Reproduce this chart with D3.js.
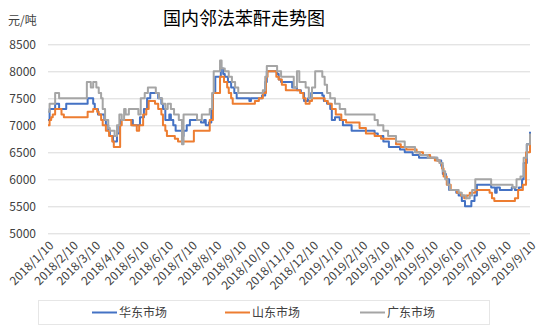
<!DOCTYPE html>
<html><head><meta charset="utf-8">
<script src="https://cdn.jsdelivr.net/npm/d3@7"></script>
<style>body{margin:0;background:#fff}svg{display:block}text{font-family:"Noto Sans CJK SC","Microsoft YaHei",sans-serif}</style>
</head><body>
<svg id="chart" width="554" height="332"></svg>
<script>
const chartTitle = "国内邻法苯酐走势图";
const unitLabel = "元/吨";
const seriesNames = ["华东市场", "山东市场", "广东市场"];
const seriesColors = ["#4472C4", "#ED7D31", "#A5A5A5"];
const yTickValues = [5000, 5500, 6000, 6500, 7000, 7500, 8000, 8500];
const xTickLabels = ["2018/1/10","2018/2/10","2018/3/10","2018/4/10","2018/5/10","2018/6/10","2018/7/10","2018/8/10","2018/9/10","2018/10/10","2018/11/10","2018/12/10","2019/1/10","2019/2/10","2019/3/10","2019/4/10","2019/5/10","2019/6/10","2019/7/10","2019/8/10","2019/9/10"];

// 华东市场 (date, price) – step changes
const huadong = [
["2018-01-10",7100],["2018-01-12",7300],["2018-01-19",7400],["2018-01-24",7300],["2018-02-02",7400],
["2018-03-01",7500],["2018-03-08",7400],["2018-03-10",7300],["2018-03-14",7200],["2018-03-22",7100],
["2018-03-24",7000],["2018-03-27",6900],["2018-03-29",6800],["2018-04-02",6700],["2018-04-07",6850],
["2018-04-10",7000],["2018-04-12",7100],["2018-04-27",7000],["2018-05-06",7150],["2018-05-11",7300],
["2018-05-15",7500],["2018-05-19",7600],["2018-05-29",7500],["2018-06-02",7400],["2018-06-04",7300],
["2018-06-07",7100],["2018-06-12",7200],["2018-06-14",7100],["2018-06-17",7000],["2018-06-20",6900],
["2018-06-28",6800],["2018-06-30",6900],["2018-07-04",7000],["2018-07-08",7100],["2018-07-22",7050],
["2018-07-26",7100],["2018-07-28",7000],["2018-08-01",7050],["2018-08-04",7300],["2018-08-06",7600],
["2018-08-09",7900],["2018-08-16",8050],["2018-08-19",7950],["2018-08-21",7900],["2018-08-25",7800],
["2018-08-29",7700],["2018-09-02",7600],["2018-09-05",7500],["2018-09-21",7450],["2018-09-23",7500],
["2018-10-07",7550],["2018-10-11",7800],["2018-10-13",8000],["2018-10-26",7950],["2018-10-28",7850],
["2018-10-31",7800],["2018-11-14",7700],["2018-11-20",7650],["2018-11-25",7600],["2018-11-29",7450],
["2018-12-04",7500],["2018-12-08",7600],["2018-12-22",7550],["2018-12-24",7450],["2018-12-28",7400],
["2019-01-01",7300],["2019-01-03",7100],["2019-01-07",7150],["2019-01-13",7100],["2019-01-17",7000],
["2019-01-28",6900],["2019-02-26",6850],["2019-03-02",6800],["2019-03-09",6700],["2019-03-16",6600],
["2019-03-30",6550],["2019-04-05",6500],["2019-04-15",6450],["2019-04-23",6400],["2019-05-16",6350],
["2019-05-21",6250],["2019-05-23",6100],["2019-05-27",6000],["2019-05-31",5800],["2019-06-09",5750],
["2019-06-12",5700],["2019-06-16",5600],["2019-06-20",5500],["2019-06-28",5600],["2019-07-02",5700],
["2019-07-05",5900],["2019-07-23",5850],["2019-07-28",5750],["2019-07-30",5850],["2019-08-03",5800],
["2019-08-18",5850],["2019-08-22",5800],["2019-08-27",5850],["2019-08-31",6000],["2019-09-02",6300],
["2019-09-06",6650],["2019-09-10",6880]
];

// 山东市场
const shandong = [
["2018-01-10",7000],["2018-01-12",7100],["2018-01-14",7150],["2018-01-16",7200],["2018-01-19",7300],
["2018-01-27",7200],["2018-01-30",7150],["2018-03-01",7250],["2018-03-08",7300],["2018-03-13",7250],
["2018-03-15",7200],["2018-03-18",7100],["2018-03-20",7000],["2018-03-24",6900],["2018-03-28",6800],
["2018-04-01",6700],["2018-04-03",6600],["2018-04-11",7000],["2018-04-13",7100],["2018-04-25",7000],
["2018-05-02",6900],["2018-05-05",7000],["2018-05-10",7200],["2018-05-14",7300],["2018-05-17",7450],
["2018-05-25",7400],["2018-05-29",7300],["2018-06-02",7200],["2018-06-04",7000],["2018-06-07",6900],
["2018-06-09",6800],["2018-06-19",6750],["2018-06-23",6700],["2018-07-13",6900],["2018-08-02",7100],
["2018-08-06",7600],["2018-08-15",7900],["2018-08-20",7800],["2018-08-24",7700],["2018-08-26",7600],
["2018-08-29",7500],["2018-08-31",7400],["2018-09-28",7450],["2018-10-03",7500],["2018-10-08",7600],
["2018-10-12",7900],["2018-10-14",8000],["2018-10-25",7900],["2018-10-28",7850],["2018-11-01",7750],
["2018-11-06",7650],["2018-11-24",7600],["2018-11-28",7500],["2018-12-01",7400],["2018-12-06",7450],
["2018-12-09",7500],["2018-12-25",7450],["2018-12-29",7400],["2019-01-03",7300],["2019-01-08",7200],
["2019-01-15",7100],["2019-01-21",7050],["2019-02-07",6950],["2019-02-15",6850],["2019-02-26",6800],
["2019-03-06",6750],["2019-03-25",6650],["2019-03-31",6600],["2019-04-07",6550],["2019-04-20",6500],
["2019-04-28",6450],["2019-05-07",6400],["2019-05-13",6350],["2019-05-19",6300],["2019-05-22",6200],
["2019-05-24",6050],["2019-05-28",5900],["2019-06-02",5800],["2019-06-10",5750],["2019-06-15",5700],
["2019-06-19",5650],["2019-06-22",5700],["2019-06-26",5750],["2019-07-03",5800],["2019-07-21",5750],
["2019-07-24",5650],["2019-07-27",5600],["2019-08-22",5650],["2019-08-26",5800],["2019-09-01",5900],
["2019-09-05",6500],["2019-09-10",6650]
];

// 广东市场
const guangdong = [
["2018-01-10",7250],["2018-01-12",7400],["2018-01-19",7600],["2018-01-24",7500],["2018-02-28",7800],
["2018-03-05",7700],["2018-03-08",7800],["2018-03-12",7700],["2018-03-15",7600],["2018-03-18",7500],
["2018-03-20",7300],["2018-03-23",7100],["2018-03-27",6950],["2018-03-29",6900],["2018-04-04",6800],
["2018-04-07",7000],["2018-04-10",7200],["2018-04-13",7100],["2018-04-16",7300],["2018-04-18",7200],
["2018-04-22",7300],["2018-05-04",7200],["2018-05-07",7500],["2018-05-12",7600],["2018-05-16",7700],
["2018-05-26",7600],["2018-05-30",7500],["2018-06-03",7400],["2018-06-07",7300],["2018-06-10",7400],
["2018-06-14",7300],["2018-06-18",7200],["2018-06-24",7100],["2018-06-28",6650],["2018-06-30",7200],
["2018-07-17",7100],["2018-07-23",7200],["2018-08-02",7300],["2018-08-05",7600],["2018-08-07",8000],
["2018-08-15",8200],["2018-08-17",8050],["2018-08-21",8000],["2018-08-26",7900],["2018-08-30",7800],
["2018-09-03",7700],["2018-09-07",7600],["2018-10-08",7650],["2018-10-11",7900],["2018-10-13",8100],
["2018-10-26",8000],["2018-10-31",7900],["2018-11-16",7700],["2018-11-20",8000],["2018-11-23",7800],
["2018-12-01",7700],["2018-12-05",7500],["2018-12-09",7700],["2018-12-13",8000],["2018-12-22",7900],
["2018-12-25",7750],["2018-12-28",7600],["2019-01-01",7500],["2019-01-07",7400],["2019-01-13",7300],
["2019-01-20",7200],["2019-02-26",7100],["2019-03-02",7000],["2019-03-09",6900],["2019-03-15",6800],
["2019-03-25",6700],["2019-04-05",6600],["2019-04-18",6500],["2019-04-24",6450],["2019-05-04",6400],
["2019-05-16",6350],["2019-05-19",6300],["2019-05-23",6150],["2019-05-26",6000],["2019-05-29",5900],
["2019-06-01",5800],["2019-06-12",5750],["2019-06-16",5700],["2019-06-21",5650],["2019-06-26",5700],
["2019-06-29",5800],["2019-07-03",6000],["2019-07-23",5900],["2019-08-19",5850],["2019-08-24",6000],
["2019-08-29",6050],["2019-09-02",6400],["2019-09-06",6650],["2019-09-10",6850]
];

const seriesData = [huadong, shandong, guangdong];
const parseDate = d3.timeParse("%Y-%m-%d");
const tickDates = xTickLabels.map(d3.timeParse("%Y/%m/%d"));

const svg = d3.select("#chart");
const plotLeft = 48, plotRight = 530, plotTop = 44.3, plotBottom = 233.3;
const x = d3.scaleTime().domain([parseDate("2018-01-10"), parseDate("2019-09-10")]).range([plotLeft, plotRight]);
const y = d3.scaleLinear().domain([5000, 8500]).range([plotBottom, plotTop]);

// gridlines + y labels
const yAxis = svg.append("g").attr("transform", `translate(${plotLeft},0)`)
  .call(d3.axisLeft(y).tickValues(yTickValues).tickSize(-(plotRight - plotLeft)).tickPadding(12).tickFormat(d3.format("d")));
yAxis.select(".domain").remove();
yAxis.selectAll(".tick line").attr("stroke", "#d9d9d9").attr("stroke-width", 1);
yAxis.selectAll(".tick text").attr("fill", "#404040").style("font-size", "12px")
  .style("font-family", "'Noto Sans CJK SC', sans-serif");

// x axis labels
const xAxis = svg.append("g").attr("transform", `translate(0,${plotBottom})`)
  .call(d3.axisBottom(x).tickValues(tickDates).tickSize(0).tickFormat((d, i) => xTickLabels[i]));
xAxis.select(".domain").remove();
xAxis.selectAll(".tick text")
  .attr("fill", "#404040").style("font-size", "12px")
  .style("font-family", "'Noto Sans CJK SC', sans-serif")
  .attr("text-anchor", "end").attr("dy", "0.35em").attr("y", 0)
  .attr("transform", "translate(3,10) rotate(-45)");

// lines
const line = d3.line().x(d => x(parseDate(d[0]))).y(d => y(d[1])).curve(d3.curveStepAfter);
seriesData.forEach((s, i) => {
  svg.append("path").datum(s).attr("d", line).attr("fill", "none")
    .attr("stroke", seriesColors[i]).attr("stroke-width", 2).attr("stroke-linejoin", "round");
});

// title & unit
svg.append("text").attr("x", 244).attr("y", 25).attr("text-anchor", "middle")
  .style("font-size", "18px").attr("fill", "#000").text(chartTitle);
svg.append("text").attr("x", 8).attr("y", 25).style("font-size", "12px").attr("fill", "#404040").text(unitLabel);

// legend
svg.append("rect").attr("x", 38.5).attr("y", 300.5).attr("width", 451).attr("height", 24)
  .attr("fill", "none").attr("stroke", "#e6e6e6");
const legendX = [92, 225, 360];
seriesNames.forEach((n, i) => {
  const g = svg.append("g").attr("transform", `translate(${legendX[i]},312.5)`);
  g.append("line").attr("x1", 0).attr("x2", 25).attr("stroke", seriesColors[i]).attr("stroke-width", 2);
  g.append("text").attr("x", 27).attr("dy", "0.35em").style("font-size", "12px").attr("fill", "#404040").text(n);
});
</script>
</body></html>
